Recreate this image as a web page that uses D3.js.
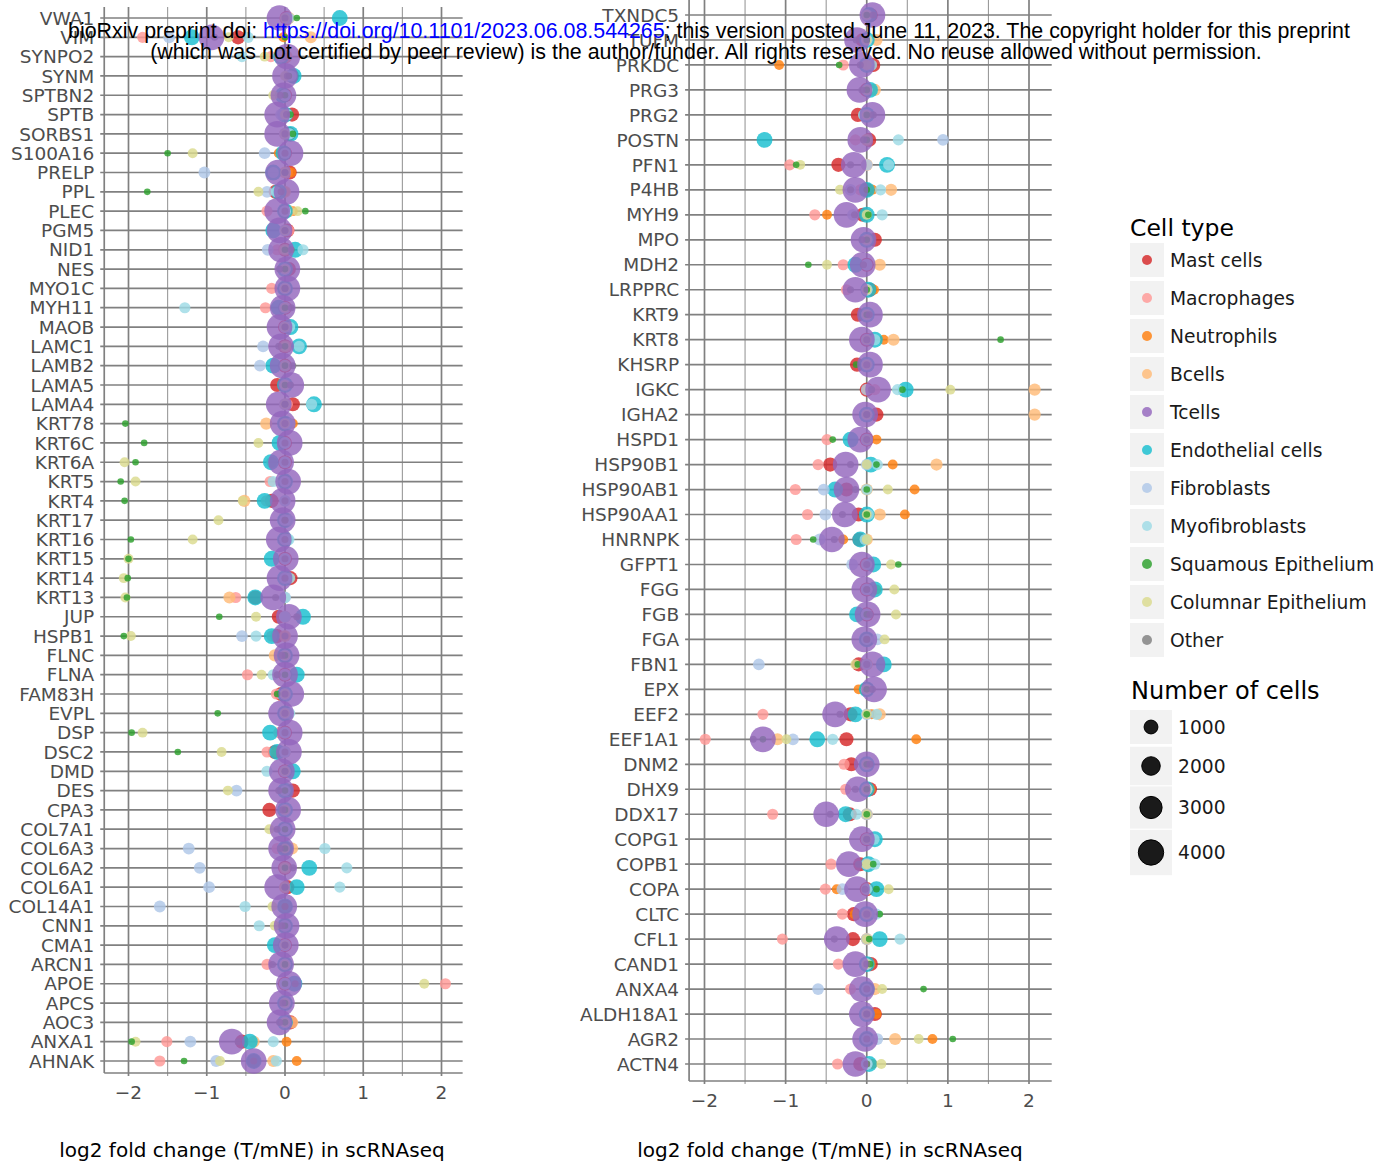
<!DOCTYPE html>
<html>
<head>
<meta charset="utf-8">
<script src="https://cdn.jsdelivr.net/npm/d3@7"></script>
<style>
  body { margin: 0; background: #fff; }
  svg { display: block; font-family: "DejaVu Sans", sans-serif; }
</style>
</head>
<body>
<div id="chart"></div>
<script>
// cell types, legend order
const cellTypes = ["Mast cells", "Macrophages", "Neutrophils", "Bcells", "Tcells", "Endothelial cells",
    "Fibroblasts", "Myofibroblasts", "Squamous Epithelium", "Columnar Epithelium", "Other"];
const cellColors = ["#d62728", "#ff9896", "#ff7f0e", "#ffbb78", "#9467bd", "#17becf",
    "#aec7e8", "#9edae5", "#2ca02c", "#dbdb8d", "#7f7f7f"];
// number of cells per type (drives the dot size)
const cellCounts = [1050, 550, 380, 700, 4100, 1400, 650, 550, 20, 380, 60];
const sizeLegendValues = [1000, 2000, 3000, 4000];
const xTicks = [-2, -1, 0, 1, 2];
const xMinorTicks = [-1.5, -0.5, 0.5, 1.5];

// ---- left panel ----
const leftGenes = ["VWA1", "VIM", "SYNPO2", "SYNM", "SPTBN2", "SPTB", "SORBS1", "S100A16", "PRELP", "PPL",
    "PLEC", "PGM5", "NID1", "NES", "MYO1C", "MYH11", "MAOB", "LAMC1", "LAMB2", "LAMA5",
    "LAMA4", "KRT78", "KRT6C", "KRT6A", "KRT5", "KRT4", "KRT17", "KRT16", "KRT15", "KRT14",
    "KRT13", "JUP", "HSPB1", "FLNC", "FLNA", "FAM83H", "EVPL", "DSP", "DSC2", "DMD",
    "DES", "CPA3", "COL7A1", "COL6A3", "COL6A2", "COL6A1", "COL14A1", "CNN1", "CMA1", "ARCN1",
    "APOE", "APCS", "AOC3", "ANXA1", "AHNAK"];
const leftMast = [0.02, -0.60, 0, 0.09, 0, 0.09, 0.05, 0, 0.06, -0.12,
    0, 0.03, 0, 0.05, 0, 0, 0, 0, 0, -0.10,
    0.10, 0, 0, 0, 0, -0.17, 0, 0, 0, 0.07,
    -0.38, -0.08, -0.10, 0, 0, -0.05, 0, 0, -0.13, 0,
    0.10, -0.20, 0, 0, 0, 0.03, 0, 0, 0, 0,
    0, 0, 0.07, -0.55, -0.40];
const leftMacro = [0, -1.82, -0.18, 0.05, 0, 0.03, 0, 0, 0.03, -0.10,
    -0.23, 0.05, -0.10, 0, -0.17, -0.25, 0, 0.03, 0, 0,
    0.03, 0, 0, -0.17, -0.19, -0.24, 0, 0, 0, 0,
    -0.63, 0, -0.17, 0, -0.48, -0.11, 0, -0.08, -0.23, 0,
    0, 0, 0, -0.10, 0, 0, 0, 0, 0, -0.23,
    2.05, 0, 0, -1.51, -1.60];
const leftNeut = [0.05, -0.02, 0, 0.05, 0, 0.03, 0, -0.08, 0.08, 0,
    0.10, 0, 0, 0, 0, 0, 0, 0, 0, 0,
    0, 0.10, 0, 0, 0, 0, 0, 0, 0, 0.06,
    0, 0, 0, 0, 0, 0, 0, 0, -0.12, 0,
    0, 0, 0, 0, 0, 0, 0, 0, 0, 0,
    0, 0, 0, 0.02, 0.15];
const leftBcell = [0.05, 0.33, 0.02, 0.05, 0, 0, 0, 0, 0, 0,
    0.05, 0, 0, 0, 0, 0, 0, 0, 0, 0,
    0, -0.24, 0, 0, 0, -0.52, 0, 0, 0, 0,
    -0.71, 0, 0, -0.13, 0, 0, 0, 0, 0, 0,
    0, 0, 0, 0.09, 0, 0, 0, 0, 0, 0,
    0, 0, 0.09, -0.40, -0.15];
const leftTcell = [-0.07, -0.94, 0.03, 0, -0.02, -0.10, -0.10, 0.07, -0.09, 0.02,
    -0.10, -0.07, -0.05, 0.03, 0.03, -0.03, -0.07, -0.05, -0.03, 0.08,
    -0.08, -0.03, 0.06, -0.05, 0.04, -0.03, -0.03, -0.08, 0.01, -0.07,
    -0.15, 0.05, 0, 0.02, 0, 0.08, -0.05, 0.06, 0.05, -0.04,
    -0.05, 0.04, -0.03, -0.05, -0.01, -0.10, -0.01, 0.02, 0.01, -0.05,
    0.05, -0.04, -0.07, -0.68, -0.40];
const leftEndo = [0.70, -1.19, -0.05, 0.11, -0.03, 0, 0.07, -0.02, -0.15, -0.08,
    0, -0.15, 0.13, 0, 0, -0.08, 0.07, 0.18, -0.15, 0,
    0.37, 0, -0.07, -0.18, 0, -0.26, 0, 0, -0.17, 0,
    -0.38, 0.23, -0.17, 0, 0.15, 0, 0, -0.19, -0.10, 0.10,
    0, 0, 0, 0, 0.31, 0.15, 0, 0, -0.13, 0,
    0.12, 0, 0, -0.45, -0.40];
const leftFibro = [0.02, -1.48, -0.05, 0.03, 0, -0.05, 0, -0.26, -1.03, -0.23,
    0, 0, -0.22, 0, 0, 0, 0, -0.28, -0.32, 0,
    0, 0, 0, 0, 0, 0, 0, 0, 0, 0,
    0, 0, -0.55, 0, 0, 0, 0, 0, 0, 0,
    -0.62, 0, 0, -1.23, -1.09, -0.97, -1.60, 0, 0, 0,
    0, 0, 0, -1.21, -0.88];
const leftMyo = [0.05, -0.47, -0.55, 0.08, 0, 0.03, 0.06, 0, -0.15, -0.11,
    0, 0, 0.23, 0, 0, -1.28, 0.06, 0.18, 0, 0,
    0.34, 0.06, 0, 0, -0.15, 0, 0.05, 0.05, 0, 0.06,
    0, 0, -0.37, 0, -0.15, 0, 0.06, 0, 0, -0.23,
    0, 0, 0, 0.51, 0.79, 0.70, -0.51, -0.33, 0, 0,
    0, 0, 0, -0.15, -0.11];
const leftSquam = [0.15, 0, 0, 0.05, 0, 0.07, 0.10, -1.50, 0, -1.76,
    0.26, 0, 0, 0, 0, 0, 0, 0, 0, 0,
    0, -2.04, -1.80, -1.91, -2.10, -2.05, 0, -1.97, -2.00, -2.01,
    -2.02, -0.84, -2.06, 0, 0, -0.10, -0.86, -1.96, -1.37, 0,
    0, 0, 0, 0, 0, 0, 0, 0, 0, 0,
    0, 0, 0, -1.96, -1.29];
const leftColum = [0, -0.72, -0.26, 0, -0.15, 0, 0, -1.18, 0, -0.34,
    0.16, 0, 0, 0, 0, 0, 0, 0, 0, 0,
    0, 0, -0.34, -2.05, -1.91, -0.54, -0.85, -1.18, -2.00, -2.06,
    -2.04, -0.37, -1.97, 0, -0.30, 0, 0, -1.82, -0.81, 0,
    -0.73, 0, -0.20, 0, 0, 0, -0.16, -0.13, 0, 0,
    1.78, 0, 0, -1.91, -0.83];
const leftOther = [0, -0.90, 0, 0.03, -0.06, 0.02, 0, 0, 0, -0.05,
    0, 0, 0.08, -0.07, 0, 0.08, 0, -0.08, 0.10, 0.07,
    0, 0, 0, 0, 0, 0, 0, 0, 0, 0,
    -0.12, 0.15, 0, -0.04, -0.10, 0, 0, 0, 0, 0,
    -0.08, -0.03, -0.10, -0.06, 0.10, 0, 0, -0.04, 0, -0.16,
    0.13, -0.03, -0.07, -0.60, -0.40];

// ---- right panel ----
const rightGenes = ["TXNDC5", "TUFM", "PRKDC", "PRG3", "PRG2", "POSTN", "PFN1", "P4HB", "MYH9", "MPO",
    "MDH2", "LRPPRC", "KRT9", "KRT8", "KHSRP", "IGKC", "IGHA2", "HSPD1", "HSP90B1", "HSP90AB1",
    "HSP90AA1", "HNRNPK", "GFPT1", "FGG", "FGB", "FGA", "FBN1", "EPX", "EEF2", "EEF1A1",
    "DNM2", "DHX9", "DDX17", "COPG1", "COPB1", "COPA", "CLTC", "CFL1", "CAND1", "ANXA4",
    "ALDH18A1", "AGR2", "ACTN4"];
const rightMast = [0.05, -0.05, 0.08, 0, -0.11, 0.03, -0.35, 0, -0.05, 0.10,
    0, 0.04, -0.11, 0, -0.12, 0, 0.12, 0, -0.45, -0.25,
    -0.10, -0.09, 0, 0, 0, 0, -0.10, 0, -0.20, -0.25,
    -0.19, 0.04, -0.21, 0, -0.08, 0, -0.16, -0.17, 0.05, 0,
    0.10, 0, -0.08];
const rightMacro = [0.05, 0, -0.29, 0.06, 0, -0.14, -0.95, -0.08, -0.64, 0,
    -0.29, -0.25, 0, 0, 0, 0.10, 0, -0.49, -0.60, -0.88,
    -0.73, -0.87, 0, 0, 0, 0, 0, 0, -1.28, -1.99,
    -0.28, -0.26, -1.16, 0, -0.44, -0.51, -0.30, -1.04, -0.35, -0.20,
    0, 0, -0.36];
const rightNeut = [0, 0, -1.08, 0, 0, 0, 0, 0.07, -0.49, 0,
    0, 0.09, 0, 0.21, 0, 0, 0, 0.12, 0.32, 0.59,
    0.47, -0.29, 0, 0.12, 0, 0, 0, -0.10, 0.06, 0.61,
    0, 0.05, 0, 0, 0.01, -0.37, -0.15, 0, 0.05, 0,
    0.12, 0.81, 0.07];
const rightBcell = [0, 0.12, 0, 0.10, 0, 0, 0, 0.30, 0, 0,
    0.16, 0, 0, 0.33, 0, 2.07, 2.07, 0, 0.86, 0,
    0.16, 0, 0, 0, 0, 0, 0, 0, 0.16, -1.10,
    0, 0, 0, 0, 0, 0, 0, 0, 0, 0.10,
    0, 0.35, 0];
const rightTcell = [0.07, -0.12, -0.06, -0.09, 0.07, -0.08, -0.16, -0.14, -0.25, -0.04,
    -0.05, -0.14, 0.04, -0.06, 0.04, 0.14, -0.02, -0.08, -0.26, -0.25,
    -0.27, -0.43, -0.06, -0.03, 0.01, -0.03, 0.07, 0.09, -0.39, -1.28,
    0, -0.11, -0.50, -0.06, -0.22, -0.12, -0.02, -0.37, -0.14, -0.06,
    -0.06, -0.02, -0.14];
const rightEndo = [0.03, 0, 0, 0.04, 0, -1.26, 0.25, 0, 0, 0,
    -0.14, 0.02, 0, 0.10, 0, 0.48, 0, -0.20, 0.05, -0.39,
    0, -0.08, 0.08, 0.10, -0.12, 0, 0.21, 0, -0.14, -0.61,
    0, 0, -0.26, 0.10, 0.02, 0.12, 0, 0.16, 0, 0,
    0, 0, 0.03];
const rightFibro = [0, 0, 0, 0, 0, 0.94, 0, -0.20, -0.17, 0,
    0, 0, 0, 0, 0, 0, 0, 0, 0, -0.53,
    -0.51, -0.58, -0.18, 0, 0, 0.13, -1.33, 0, 0, -0.91,
    0, 0, 0, 0, 0, -0.30, 0, 0, 0, -0.60,
    0, 0.13, 0];
const rightMyo = [0, 0, 0.06, 0, -0.04, 0.39, 0.27, 0.17, 0.19, 0,
    0, 0, 0, 0.10, 0, 0.38, 0, 0, 0.13, 0,
    0.02, -0.02, 0, 0, 0, 0, 0, 0, 0.12, -0.42,
    0, 0, -0.13, 0.09, 0.10, 0, 0.12, 0.41, 0, 0,
    0, 0, 0];
const rightSquam = [0, 0, -0.34, 0, 0, 0, -0.87, 0, 0.02, 0,
    -0.72, 0, 0, 1.65, -0.13, 0.44, 0, -0.42, 0.12, 0,
    0, -0.66, 0.39, 0, 0, 0, -0.11, 0, 0, -1.28,
    0, 0, 0, 0, 0.08, 0.12, 0.16, 0.03, 0.04, 0.70,
    0, 1.06, 0];
const rightColum = [0, 0, 0, 0, 0, 0, -0.82, -0.33, 0, 0,
    -0.49, 0, 0, 0, 0, 1.03, 0, 0, 0, 0.26,
    0, 0, 0.30, 0.34, 0.36, 0.22, -0.14, 0, 0, -0.99,
    0, 0, 0, 0, 0, 0.27, 0, 0, 0, 0.19,
    0, 0.64, 0.18];
const rightOther = [0.08, -0.13, -0.08, -0.06, 0.08, -0.04, -0.20, -0.20, -0.15, -0.06,
    -0.04, -0.20, 0.03, 0, 0, 0.06, 0, 0, -0.20, -0.14,
    -0.30, -0.40, 0, 0, 0.04, 0, 0, 0.07, -0.33, -1.40,
    0.04, -0.14, -0.45, 0, -0.10, -0.02, 0, -0.40, 0, 0,
    0, 0, 0];

const width = 1388;
const height = 1169;
const gridColor = "#808080";
const textGray = "#4d4d4d";

const svg = d3.select("#chart").append("svg")
    .attr("width", width)
    .attr("height", height);

// dot area grows linearly with the number of cells
const area = d3.scaleLinear().domain([20, 4100]).range([11, 165]);
const radius = n => Math.sqrt(area(n));

// points are stacked in this order (Tcells on top)
const drawOrder = [0, 1, 2, 3, 5, 6, 7, 9, 8, 10, 4];

const panels = [
    {
        genes: leftGenes,
        values: [leftMast, leftMacro, leftNeut, leftBcell, leftTcell, leftEndo,
            leftFibro, leftMyo, leftSquam, leftColum, leftOther],
        xRange: [128.5, 441.5], xLim: [-2.31, 2.27],
        yRange: [18, 1061], top: 7, bottom: 1073, titleX: 252
    },
    {
        genes: rightGenes,
        values: [rightMast, rightMacro, rightNeut, rightBcell, rightTcell, rightEndo,
            rightFibro, rightMyo, rightSquam, rightColum, rightOther],
        xRange: [704.5, 1029], xLim: [-2.19, 2.28],
        yRange: [15, 1064], top: 0, bottom: 1081, titleX: 830
    }
];

panels.forEach(p => {
    const x = d3.scaleLinear().domain([-2, 2]).range(p.xRange);
    const y = d3.scalePoint().domain(p.genes).range(p.yRange);
    const x0 = x(p.xLim[0]);
    const x1 = x(p.xLim[1]);
    const g = svg.append("g");

    // minor vertical grid
    g.selectAll(".vminor").data(xMinorTicks).enter().append("line")
        .attr("x1", d => x(d)).attr("x2", d => x(d))
        .attr("y1", p.top).attr("y2", p.bottom + 3)
        .attr("stroke", "#9a9a9a").attr("stroke-width", 1.1);

    // major vertical grid
    g.selectAll(".vmajor").data(xTicks).enter().append("line")
        .attr("x1", d => x(d)).attr("x2", d => x(d))
        .attr("y1", p.top).attr("y2", p.bottom + 3)
        .attr("stroke", gridColor).attr("stroke-width", 1.7);

    // one horizontal line per gene, with a small tick on the left
    g.selectAll(".hgrid").data(p.genes).enter().append("line")
        .attr("x1", x0 - 4).attr("x2", x1)
        .attr("y1", d => y(d)).attr("y2", d => y(d))
        .attr("stroke", gridColor).attr("stroke-width", 1.7);

    // axis lines
    g.append("line")
        .attr("x1", x0).attr("x2", x0).attr("y1", p.top).attr("y2", p.bottom)
        .attr("stroke", gridColor).attr("stroke-width", 1.7);
    g.append("line")
        .attr("x1", x0).attr("x2", x1).attr("y1", p.bottom).attr("y2", p.bottom)
        .attr("stroke", gridColor).attr("stroke-width", 1.7);

    // gene labels
    g.selectAll(".gene").data(p.genes).enter().append("text")
        .attr("x", x0 - 10)
        .attr("y", d => y(d))
        .attr("dy", "0.36em")
        .attr("text-anchor", "end")
        .style("font-size", "18.5px")
        .attr("fill", textGray)
        .text(d => d);

    // tick labels
    g.selectAll(".tick").data(xTicks).enter().append("text")
        .attr("x", d => x(d))
        .attr("y", p.bottom + 19)
        .attr("dy", "0.36em")
        .attr("text-anchor", "middle")
        .style("font-size", "18.5px")
        .attr("fill", textGray)
        .text(d => d3.format("d")(d));

    // axis title
    g.append("text")
        .attr("x", p.titleX)
        .attr("y", 1150)
        .attr("dy", "0.36em")
        .attr("text-anchor", "middle")
        .style("font-size", "20px")
        .attr("fill", "#000")
        .text("log2 fold change (T/mNE) in scRNAseq");

    // points
    drawOrder.forEach(ci => {
        const pts = p.genes.map((gene, i) => ({ gene: gene, v: p.values[ci][i] }));
        g.append("g").selectAll("circle").data(pts).enter().append("circle")
            .attr("cx", d => x(d.v))
            .attr("cy", d => y(d.gene))
            .attr("r", radius(cellCounts[ci]))
            .attr("fill", cellColors[ci])
            .attr("fill-opacity", 0.82);
    });
});

// ---- legends ----
const legend = svg.append("g").attr("transform", "translate(1130, 0)");

legend.append("text")
    .attr("x", 0).attr("y", 236)
    .style("font-size", "23.5px")
    .text("Cell type");

const items = legend.selectAll(".ct").data(cellTypes).enter().append("g")
    .attr("transform", (d, i) => `translate(0, ${260 + i * 38})`);

items.append("rect")
    .attr("x", 0).attr("y", -17)
    .attr("width", 34).attr("height", 34)
    .attr("fill", "#f2f2f2");

items.append("circle")
    .attr("cx", 17).attr("cy", 0).attr("r", 5)
    .attr("fill", (d, i) => cellColors[i])
    .attr("fill-opacity", 0.82);

items.append("text")
    .attr("x", 40).attr("y", 0).attr("dy", "0.36em")
    .style("font-size", "18.7px")
    .attr("fill", "#1a1a1a")
    .text(d => d);

legend.append("text")
    .attr("x", 1).attr("y", 699)
    .style("font-size", "24px")
    .text("Number of cells");

const sizeCenters = [727, 766, 807.5, 852.5];
const sizeItems = legend.selectAll(".sz").data(sizeLegendValues).enter().append("g")
    .attr("transform", (d, i) => `translate(0, ${sizeCenters[i]})`);

sizeItems.append("rect")
    .attr("x", 0).attr("y", d => -(radius(d) + 10))
    .attr("width", 42).attr("height", d => 2 * (radius(d) + 10))
    .attr("fill", "#f2f2f2");

sizeItems.append("circle")
    .attr("cx", 21).attr("cy", 0)
    .attr("r", d => radius(d))
    .attr("fill", "#1a1a1a")
    .attr("stroke", "#000").attr("stroke-width", 1);

sizeItems.append("text")
    .attr("x", 48).attr("y", 0).attr("dy", "0.36em")
    .style("font-size", "18.7px")
    .attr("fill", "#1a1a1a")
    .text(d => d);

// ---- preprint banner ----
const banner = svg.append("g")
    .style("font-family", "'Liberation Sans', Arial, sans-serif")
    .style("font-size", "21.4px");

const line1 = banner.append("text")
    .attr("x", 709).attr("y", 38)
    .attr("text-anchor", "middle");
line1.append("tspan").text("bioRxiv preprint doi: ");
line1.append("tspan").attr("fill", "#0000ff").text("https://doi.org/10.1101/2023.06.08.544265");
line1.append("tspan").text("; this version posted June 11, 2023. The copyright holder for this preprint");

banner.append("text")
    .attr("x", 706).attr("y", 59)
    .attr("text-anchor", "middle")
    .text("(which was not certified by peer review) is the author/funder. All rights reserved. No reuse allowed without permission.");
</script>
</body>
</html>
